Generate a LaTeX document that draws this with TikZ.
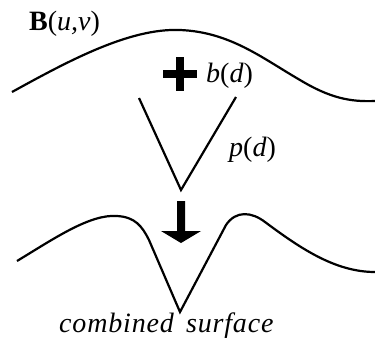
\documentclass[tikz,border=0pt]{standalone}
\usepackage{fontspec}
\setmainfont{Liberation Serif}[ItalicFont={Liberation Serif Italic},BoldFont={Liberation Serif Bold}]
\begin{document}
\begin{tikzpicture}[x=1pt,y=-1pt,
  curve/.style={line width=2.2pt, line join=miter},
  lbl/.style={anchor=base west, inner sep=0pt, font=\fontsize{28}{32}\selectfont}]
\useasboundingbox (0,0) rectangle (375,341);
% top surface B(u,v)
\draw[curve] (12,92) .. controls (70,60) and (130,28) .. (180,30)
  .. controls (230,32) and (262,58) .. (300,80)
  .. controls (330,98) and (350,102) .. (375,101);
% plus sign
\fill (176,57) rectangle (184,91);
\fill (163,70) rectangle (197,78);
% V shaped p(d)
\draw[curve] (139,98) -- (181,190) -- (236,97);
% down arrow
\fill (177,201) -- (185,201) -- (185,231) -- (201,231) -- (181,243) -- (161,231) -- (177,231) -- cycle;
% combined surface
\draw[curve] (17,261) .. controls (55,238) and (90,214) .. (117,216)
  .. controls (135,217) and (142,226) .. (149,240)
  -- (180,312) -- (226,225)
  .. controls (236,210) and (252,212) .. (265,222)
  .. controls (300,248) and (335,272) .. (375,272);
% labels
\node[lbl] (B) at (29,30) {\textbf{B}(\textit{u,v})};
\node[lbl] (b) at (206,82) {\textit{b}(\textit{d})};
\node[lbl] (p) at (229,156) {\textit{p}(\textit{d})};
\node[lbl] (c) at (59,332) {\addfontfeature{LetterSpace=3}\textit{combined}\hspace{0.4em}\textit{surface}};
\end{tikzpicture}
\end{document}
